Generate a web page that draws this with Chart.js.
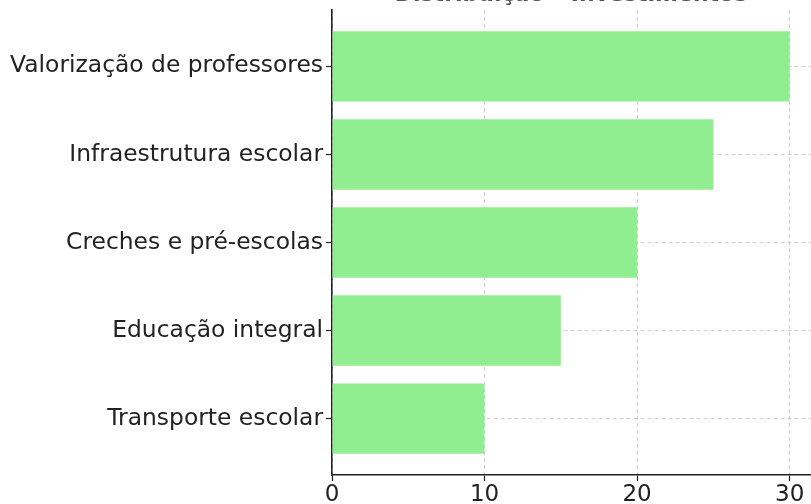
<!DOCTYPE html>
<html>
<head>
<meta charset="utf-8">
<script src="https://cdn.jsdelivr.net/npm/chart.js@4"></script>
<style>
  html, body { margin: 0; padding: 0; background: #fff; overflow: hidden; }
  #wrap { width: 811px; height: 504px; }
</style>
</head>
<body>
<div id="wrap"><canvas id="mycanvas" width="811" height="504"></canvas></div>
<script>
var titleText = "Distribuição – Investimentos";
var categories = ["Valorização de professores", "Infraestrutura escolar", "Creches e pré-escolas", "Educação integral", "Transporte escolar"];
var values = [30, 25, 20, 15, 10];
var xTicks = [0, 10, 20, 30];

var points = [];
for (var i in values) {
	points.push({ x: values[i], y: Number(i) });
}

// titulo cortado no topo (so aparece a parte de baixo das letras)
var clippedTitle = {
	id: "clippedTitle",
	afterDraw: function(chart) {
		var ctx = chart.ctx;
		ctx.save();
		ctx.font = "bold 22px 'DejaVu Sans'";
		ctx.fillStyle = "#555";
		ctx.textAlign = "center";
		ctx.textBaseline = "alphabetic";
		ctx.fillText(titleText, 571, 1);
		ctx.restore();
	}
};

var ctx = document.getElementById("mycanvas");
new Chart(ctx, {
	type: "bar",
	data: {
		datasets: [{
			data: points,
			backgroundColor: "#90EE90",
			borderWidth: 0,
			barPercentage: 0.8,
			categoryPercentage: 1.0
		}]
	},
	options: {
		indexAxis: "y",
		responsive: false,
		animation: false,
		layout: { padding: { top: 10, right: 0, left: 0, bottom: 0 } },
		plugins: {
			legend: { display: false },
			tooltip: { enabled: false }
		},
		scales: {
			x: {
				type: "linear",
				min: 0,
				max: 31.4,
				offset: false,
				afterBuildTicks: function(scale) {
					scale.ticks = xTicks.map(function(v) { return { value: v }; });
				},
				afterFit: function(scale) { scale.height = 29; },
				grid: {
					offset: false,
					color: "#cfcfcf",
					lineWidth: 1,
					drawTicks: true,
					tickLength: 6,
					tickColor: "#222",
					tickWidth: 1.2
				},
				border: { display: true, color: "#222", width: 1.6, dash: [4, 3] },
				ticks: {
					padding: 0,
					color: "#222",
					font: { family: "DejaVu Sans", size: 23 },
					maxRotation: 0
				}
			},
			y: {
				type: "linear",
				reverse: true,
				min: -0.64,
				max: 4.64,
				offset: false,
				afterBuildTicks: function(scale) {
					scale.ticks = categories.map(function(c, k) { return { value: k }; });
				},
				afterFit: function(scale) {
					scale.width = 332;
					scale.paddingTop = 0;
					scale.paddingBottom = 0;
				},
				grid: {
					offset: false,
					color: "#cfcfcf",
					lineWidth: 1,
					drawTicks: true,
					tickLength: 6,
					tickColor: "#222",
					tickWidth: 1.2
				},
				border: { display: true, color: "#222", width: 1.6, dash: [4, 3] },
				ticks: {
					padding: 3,
					color: "#222",
					font: { family: "DejaVu Sans", size: 23.4 },
					callback: function(v) { return categories[v]; }
				}
			}
		}
	},
	plugins: [clippedTitle]
});
</script>
</body>
</html>
